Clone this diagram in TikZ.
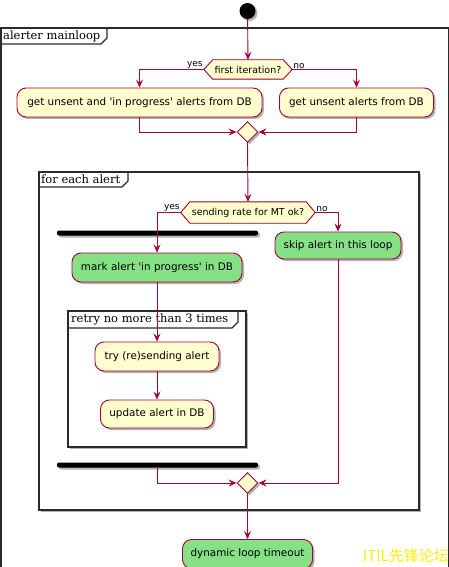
\documentclass[tikz,border=0pt]{standalone}
\usepackage{fontspec}
\setmainfont{DejaVu Sans}
\newfontfamily\framefont{DejaVu Serif}
\newfontfamily\cjkfont{Noto Sans CJK SC}
\usetikzlibrary{shapes.geometric,arrows.meta,shadows,calc}
\definecolor{umlred}{HTML}{A80036}
\definecolor{umlfill}{HTML}{FEFECE}
\definecolor{umlgreen}{HTML}{86E086}
\definecolor{framegray}{HTML}{2A2A2A}
\definecolor{wmyellow}{HTML}{FFF000}
\begin{document}
\begin{tikzpicture}[x=1pt,y=-1pt,
  shad/.style={drop shadow={shadow xshift=2pt,shadow yshift=-2pt,opacity=0.3,fill=black}},
  act/.style={rectangle,rounded corners=9pt,draw=umlred,line width=0.9pt,fill=umlfill,inner sep=0pt,font=\fontsize{10.4}{12}\selectfont,shad},
  actg/.style={act,fill=umlgreen},
  hexbox/.style={rectangle,inner sep=0pt,font=\fontsize{9.5}{11}\selectfont},
  hexline/.style={draw=umlred,line width=0.9pt,fill=umlfill},
  hexshadow/.style={fill=black,opacity=0.3},
  merge/.style={diamond,draw=umlred,fill=umlfill,line width=0.9pt,minimum width=21pt,minimum height=21pt,inner sep=0pt,shad},
  bar/.style={rectangle,fill=black,rounded corners=2pt,minimum width=201pt,minimum height=5pt,inner sep=0pt,shad},
  flow/.style={draw=umlred,line width=0.9pt,-{Stealth[length=8pt,width=7pt,inset=3pt]}},
  frame/.style={draw=framegray,line width=1.3pt},
  ftitle/.style={font=\framefont\fontsize{11.5}{13}\selectfont,anchor=west,inner sep=0pt},
  guard/.style={font=\fontsize{9}{10}\selectfont,inner sep=1pt},
]
\useasboundingbox (0,0) rectangle (449,567);
\fill[white] (0,0) rectangle (449,567);

% frames
\draw[frame] (1,620) -- (1,28) -- (448.5,28) -- (448.5,620);
\draw[frame] (1,44) -- (101,44) -- (107,38) -- (107,28);
\node[ftitle] (t1) at (3,36.5) {alerter mainloop};

\draw[frame,fill=white,shad] (39,172) rectangle (419,510);
\draw[frame] (39,187) -- (122,187) -- (128,181) -- (128,172);
\node[ftitle] (t2) at (41,179.5) {for each alert};

\draw[frame,fill=white,shad] (68,311) rectangle (246,447);
\draw[frame] (68,328) -- (232,328) -- (238,322) -- (238,311);
\node[ftitle] (t3) at (71,319.5) {retry no more than 3 times};

% nodes
\node[circle,fill=black,minimum size=16pt,inner sep=0pt,shad] (start) at (247.5,11) {};

\node[hexbox,minimum width=88pt,minimum height=19pt] (d1) at (248,69.5) {};
\fill[hexshadow,shift={(2,2)}] (d1.west) -- ([xshift=9pt]d1.north west) -- ([xshift=-9pt]d1.north east) -- (d1.east) -- ([xshift=-9pt]d1.south east) -- ([xshift=9pt]d1.south west) -- cycle;
\path[hexline] (d1.west) -- ([xshift=9pt]d1.north west) -- ([xshift=-9pt]d1.north east) -- (d1.east) -- ([xshift=-9pt]d1.south east) -- ([xshift=9pt]d1.south west) -- cycle;
\node[hexbox] at (d1) {first iteration?};

\node[act,minimum width=245pt,minimum height=29pt] (b1) at (139.5,102.5) {get unsent and \textquotesingle in progress\textquotesingle{} alerts from DB};
\node[act,minimum width=154pt,minimum height=29pt] (b2) at (356.5,102.5) {get unsent alerts from DB};
\node[merge] (m1) at (247.5,132) {};

\node[hexbox,minimum width=134pt,minimum height=21pt] (d2) at (248,212.5) {};
\fill[hexshadow,shift={(2,2)}] (d2.west) -- ([xshift=9pt]d2.north west) -- ([xshift=-9pt]d2.north east) -- (d2.east) -- ([xshift=-9pt]d2.south east) -- ([xshift=9pt]d2.south west) -- cycle;
\path[hexline] (d2.west) -- ([xshift=9pt]d2.north west) -- ([xshift=-9pt]d2.north east) -- (d2.east) -- ([xshift=-9pt]d2.south east) -- ([xshift=9pt]d2.south west) -- cycle;
\node[hexbox] at (d2) {sending rate for MT ok?};

\node[bar] (fork1) at (157.5,233) {};
\node[actg,minimum width=170pt,minimum height=29pt] (mark) at (157,267.5) {mark alert \textquotesingle in progress\textquotesingle{} in DB};
\node[actg,minimum width=126pt,minimum height=27pt] (skip) at (338,245.5) {skip alert in this loop};
\node[act,minimum width=124pt,minimum height=29pt] (try) at (157,356.5) {try (re)sending alert};
\node[act,minimum width=113pt,minimum height=28pt] (update) at (157,414) {update alert in DB};
\node[bar] (fork2) at (157.5,465) {};
\node[merge] (m2) at (247.5,483) {};
\node[actg,minimum width=130pt,minimum height=29pt] (final) at (247.5,554) {dynamic loop timeout};

% connectors
\draw[flow] (start) -- (d1.north);
\draw[flow] (d1.west) -| (b1.north);
\draw[flow] (d1.east) -| (b2.north);
\node[guard,anchor=south east] (yes1) at (d1.west) {yes};
\node[guard,anchor=south west] (no1) at (d1.east) {no};
\draw[flow] (b1.south) |- (m1.west);
\draw[flow] (b2.south) |- (m1.east);
\draw[flow] (m1.south) -- (d2.north);

\draw[flow] (d2.west) -| (mark.north);
\draw[flow] (d2.east) -| (skip.north);
\node[guard,anchor=south east] (yes2) at (d2.west) {yes};
\node[guard,anchor=south west] (no2) at (d2.east) {no};
\draw[flow] (mark.south) -- (try.north);
\draw[flow] (try.south) -- (update.north);
\draw[flow] (fork2.south -| mark.south) |- (m2.west);
\draw[flow] (skip.south) |- (m2.east);
\draw[flow] (m2.south) -- (final.north);

% watermark
\node[font=\cjkfont\fontsize{15}{17}\selectfont,text=wmyellow,anchor=east,inner sep=0pt] (wm) at (449,556) {ITIL先锋论坛};
\end{tikzpicture}
\end{document}
